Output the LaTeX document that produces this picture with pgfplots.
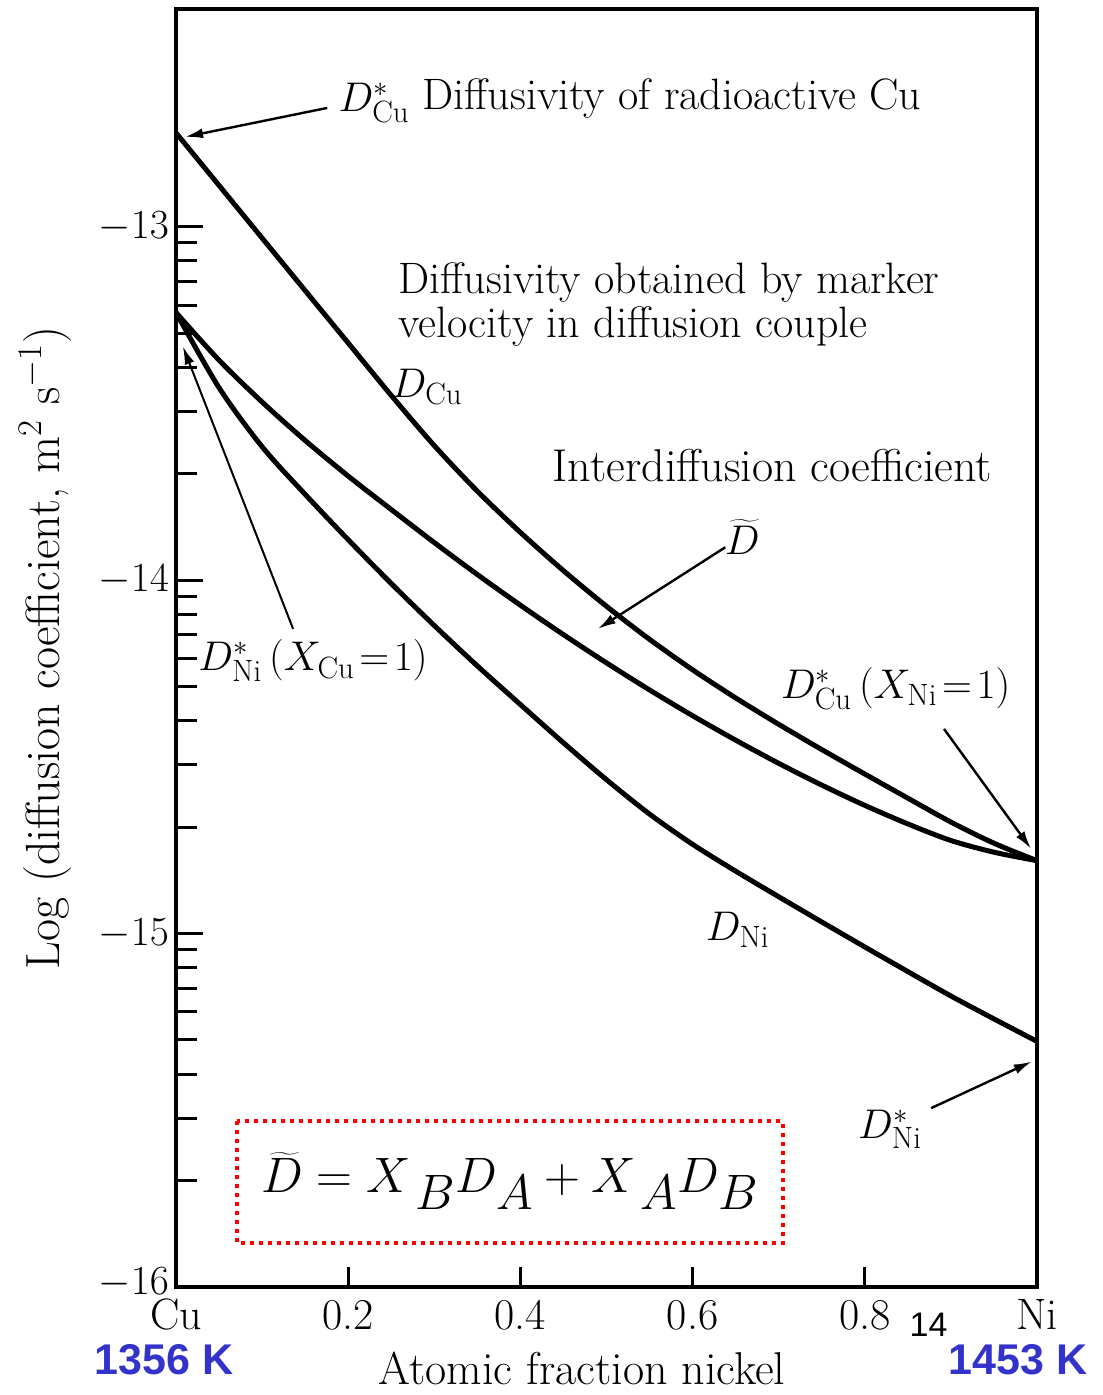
\documentclass[border=0pt]{standalone}
\usepackage{fontspec}
\usepackage{pgfplots}
\pgfplotsset{compat=1.18}
\usetikzlibrary{arrows.meta}
\newfontfamily\sansfont{Liberation Sans}
\definecolor{tempblue}{RGB}{51,51,204}
\newcommand{\lbl}{\fontsize{22}{24}\selectfont}

\begin{document}
\begin{tikzpicture}
\begin{axis}[
  scale only axis, width=430.5pt, height=639pt,
  at={(0,0)}, anchor=south west,
  xmin=0, xmax=1, ymin=-16, ymax=-12.384,
  clip=false,
  axis line style={line width=1.75pt},
  every tick/.style={black, line width=1.5pt},
  tick align=inside,
  xtick pos=lower, ytick pos=left,
  major tick length=13.5pt, minor tick length=10.5pt,
  xtick style={/pgfplots/major tick length=10pt},
  xtick={0,0.2,0.4,0.6,0.8,1},
  xticklabels={Cu,0.2,0.4,0.6,0.8,Ni},
  ytick={-16,-15,-14,-13},
  yticklabels={\raisebox{6pt}{$-16$},$-15$,$-14$,$-13$},
  minor ytick={-13.69897,-13.52288,-13.39794,-13.30103,-13.22185,-13.15490,-13.09691,-13.04576,
               -14.69897,-14.52288,-14.39794,-14.30103,-14.22185,-14.15490,-14.09691,-14.04576,
               -15.69897,-15.52288,-15.39794,-15.30103,-15.22185,-15.15490,-15.09691,-15.04576},
  xticklabel style={font=\fontsize{22}{22}\selectfont, text height=15pt, yshift=-2.6pt},
  yticklabel style={font=\fontsize{20}{20}\selectfont},
  xlabel={Atomic fraction nickel},
  xlabel style={font=\fontsize{23}{23}\selectfont, at={(rel axis cs:0.4716,-0.0634)}, anchor=center},
  ylabel={Log (diffusion coefficient, m$^2$ s$^{-1}$)},
  ylabel style={font=\fontsize{24}{24}\selectfont, at={(rel axis cs:-0.152,0.5)}, anchor=center},
]
% D*_Cu / D_Cu
\addplot[black, line width=2.5pt, smooth] coordinates {
 (0,-12.7345) (0.05,-12.8833) (0.1,-13.0322) (0.15,-13.1808) (0.2,-13.3291)
 (0.25,-13.4774) (0.3,-13.6195) (0.35,-13.7483) (0.4,-13.8650) (0.45,-13.9732)
 (0.5,-14.0740) (0.55,-14.1675) (0.6,-14.2537) (0.65,-14.3333) (0.7,-14.4079)
 (0.75,-14.4794) (0.8,-14.5486) (0.85,-14.6169) (0.9,-14.6845) (0.95,-14.7444) (1,-14.7938)};
% interdiffusion coefficient
\addplot[black, line width=2.5pt, smooth] coordinates {
 (0,-13.2429) (0.05,-13.3777) (0.1,-13.4960) (0.15,-13.6048) (0.2,-13.7056)
 (0.25,-13.8003) (0.3,-13.8938) (0.35,-13.9842) (0.4,-14.0709) (0.45,-14.1542)
 (0.5,-14.2342) (0.55,-14.3107) (0.6,-14.3836) (0.65,-14.4528) (0.7,-14.5184)
 (0.75,-14.5799) (0.8,-14.6373) (0.85,-14.6898) (0.9,-14.7367) (0.95,-14.7698) (1,-14.7938)};
% D_Ni
\addplot[black, line width=2.5pt, smooth] coordinates {
 (0,-13.2429) (0.05,-13.4556) (0.1,-13.6226) (0.15,-13.7573) (0.2,-13.8856)
 (0.25,-14.0096) (0.3,-14.1285) (0.35,-14.2427) (0.4,-14.3520) (0.45,-14.4602)
 (0.5,-14.5647) (0.55,-14.6619) (0.6,-14.7475) (0.65,-14.8234) (0.7,-14.8958)
 (0.75,-14.9672) (0.8,-15.0379) (0.85,-15.1076) (0.9,-15.1766) (0.95,-15.2415) (1,-15.3051)};

% arrows
\draw[-{Latex[length=9pt,width=5pt]}, line width=1.2pt] (axis cs:0.1756,-12.664) -- (axis cs:0.0105,-12.746);
\draw[-{Latex[length=9pt,width=5pt]}, line width=1pt] (axis cs:0.136,-14.138) -- (axis cs:0.008,-13.339);
\draw[-{Latex[length=9pt,width=5pt]}, line width=1.2pt] (axis cs:0.638,-13.907) -- (axis cs:0.490,-14.138);
\draw[-{Latex[length=9pt,width=5pt]}, line width=1.2pt] (axis cs:0.892,-14.421) -- (axis cs:0.993,-14.760);
\draw[-{Latex[length=9pt,width=5pt]}, line width=1.2pt] (axis cs:0.877,-15.494) -- (axis cs:0.994,-15.362);

% labels
\node[anchor=base west, inner sep=0pt, font=\lbl] at (axis cs:0.1884,-12.675) {$D^{*}_{\mathrm{Cu}}$};
\node[anchor=base west, inner sep=0pt, font=\lbl] at (axis cs:0.2860,-12.669) {Diffusivity of radioactive Cu};
\node[anchor=base west, inner sep=0pt, font=\lbl] at (axis cs:0.2581,-13.189) {Diffusivity obtained by marker};
\node[anchor=base west, inner sep=0pt, font=\lbl] at (axis cs:0.2581,-13.314) {velocity in diffusion couple};
\node[anchor=base west, inner sep=0pt, font=\lbl] at (axis cs:0.2500,-13.483) {$D_{\mathrm{Cu}}$};
\node[anchor=base west, inner sep=0pt, font=\fontsize{23}{24}\selectfont] at (axis cs:0.4372,-13.720) {Interdiffusion coefficient};
\node[anchor=base west, inner sep=0pt, font=\lbl] at (axis cs:0.6370,-13.927) {$\widetilde{D}$};
\node[anchor=base west, inner sep=0pt, font=\lbl] at (axis cs:0.0256,-14.257) {$D^{*}_{\mathrm{Ni}}\,(X_{\mathrm{Cu}}\!=\!1)$};
\node[anchor=base west, inner sep=0pt, font=\lbl] at (axis cs:0.7023,-14.336) {$D^{*}_{\mathrm{Cu}}\,(X_{\mathrm{Ni}}\!=\!1)$};
\node[anchor=base west, inner sep=0pt, font=\lbl] at (axis cs:0.6150,-15.020) {$D_{\mathrm{Ni}}$};
\node[anchor=base west, inner sep=0pt, font=\lbl] at (axis cs:0.7919,-15.579) {$D^{*}_{\mathrm{Ni}}$};

% formula box
\draw[red, line width=2pt, dash pattern=on 2pt off 2.5pt] (axis cs:0.0709,-15.531) rectangle (axis cs:0.7047,-15.876);
\node[font=\fontsize{33}{33}\selectfont] at (axis cs:0.3878,-15.700) {$\widetilde{D} = X_{\,B}D_{A} + X_{\,A}D_{B}$};

% temperatures and page number
\node[font=\sansfont\bfseries\fontsize{21.5}{21.5}\selectfont, text=tempblue] at (axis cs:-0.014,-16.206) {1356 K};
\node[font=\sansfont\bfseries\fontsize{21.5}{21.5}\selectfont, text=tempblue] at (axis cs:0.978,-16.206) {1453 K};
\node[font=\sansfont\fontsize{17}{17}\selectfont] at (axis cs:0.874,-16.107) {14};
\end{axis}
\pgfresetboundingbox
\path[use as bounding box] (-88pt,-54pt) rectangle (463pt,643.5pt);
\end{tikzpicture}
\end{document}
